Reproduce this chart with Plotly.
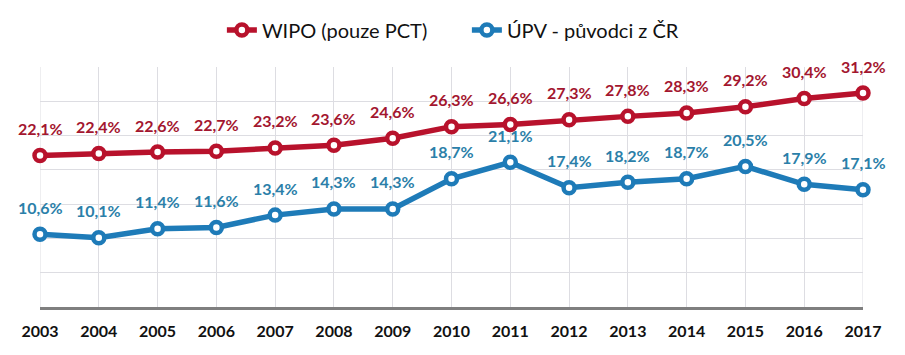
import plotly.graph_objects as go

years = [2003, 2004, 2005, 2006, 2007, 2008, 2009, 2010, 2011, 2012, 2013, 2014, 2015, 2016, 2017]
wipo = [22.1, 22.4, 22.6, 22.7, 23.2, 23.6, 24.6, 26.3, 26.6, 27.3, 27.8, 28.3, 29.2, 30.4, 31.2]
upv = [10.6, 10.1, 11.4, 11.6, 13.4, 14.3, 14.3, 18.7, 21.1, 17.4, 18.2, 18.7, 20.5, 17.9, 17.1]
names = ["WIPO (pouze PCT)", "ÚPV - původci z ČR"]

RED = "#B8122C"
RED_T = "#A3162F"
BLUE = "#1E7BB8"
BLUE_T = "#2B7FA9"
FONT = "Lato"

def fmt(v):
    return f"{v:.1f}".replace(".", ",") + "%"

fig = go.Figure()
for vals, name, col in [(wipo, names[0], RED), (upv, names[1], BLUE)]:
    fig.add_trace(go.Scatter(
        x=years, y=vals, name=name, mode="lines+markers",
        line=dict(color=col, width=5.5),
        marker=dict(size=11, color="white", line=dict(color=col, width=4.5)),
        cliponaxis=False,
    ))

annotations = []
for vals, tc in [(wipo, RED_T), (upv, BLUE_T)]:
    for x, v in zip(years, vals):
        annotations.append(dict(
            x=x, y=v, text=fmt(v), showarrow=False, yshift=27,
            font=dict(family=FONT, size=16, color=tc, weight="bold"),
        ))

fig.update_layout(
    width=897, height=347,
    margin=dict(l=32, r=42, t=59, b=48, autoexpand=False),
    paper_bgcolor="white", plot_bgcolor="white",
    font=dict(family=FONT, color="#111"),
    showlegend=True,
    legend=dict(orientation="h", x=0.221, xanchor="left", y=1.154, yanchor="middle",
                font=dict(family=FONT, size=20, color="#111"),
                entrywidth=200, entrywidthmode="pixels",
                traceorder="normal"),
    annotations=annotations,
    xaxis=dict(range=[2003, 2017], tickmode="array", tickvals=years,
               ticktext=[str(y) for y in years], showgrid=True, automargin=False,
               gridcolor="#DDDDE2", gridwidth=1, showline=True, linecolor="#7F7F7F",
               linewidth=2.5, ticks="", ticklabelstandoff=8,
               tickfont=dict(family=FONT, size=16, color="#111", weight="bold"),
               zeroline=False),
    yaxis=dict(range=[0, 35], dtick=5, showgrid=True, gridcolor="#DDDDE2", gridwidth=1,
               showticklabels=False, zeroline=False, showline=False, ticks="",
               automargin=False),
    shapes=[
        dict(type="line", xref="x", yref="paper", x0=2003, x1=2003, y0=0, y1=1,
             line=dict(color="#DDDDE2", width=1), layer="below"),
        dict(type="line", xref="x", yref="paper", x0=2017, x1=2017, y0=0, y1=1,
             line=dict(color="#DDDDE2", width=1), layer="below"),
    ],
)

fig.write_html("out.html")
